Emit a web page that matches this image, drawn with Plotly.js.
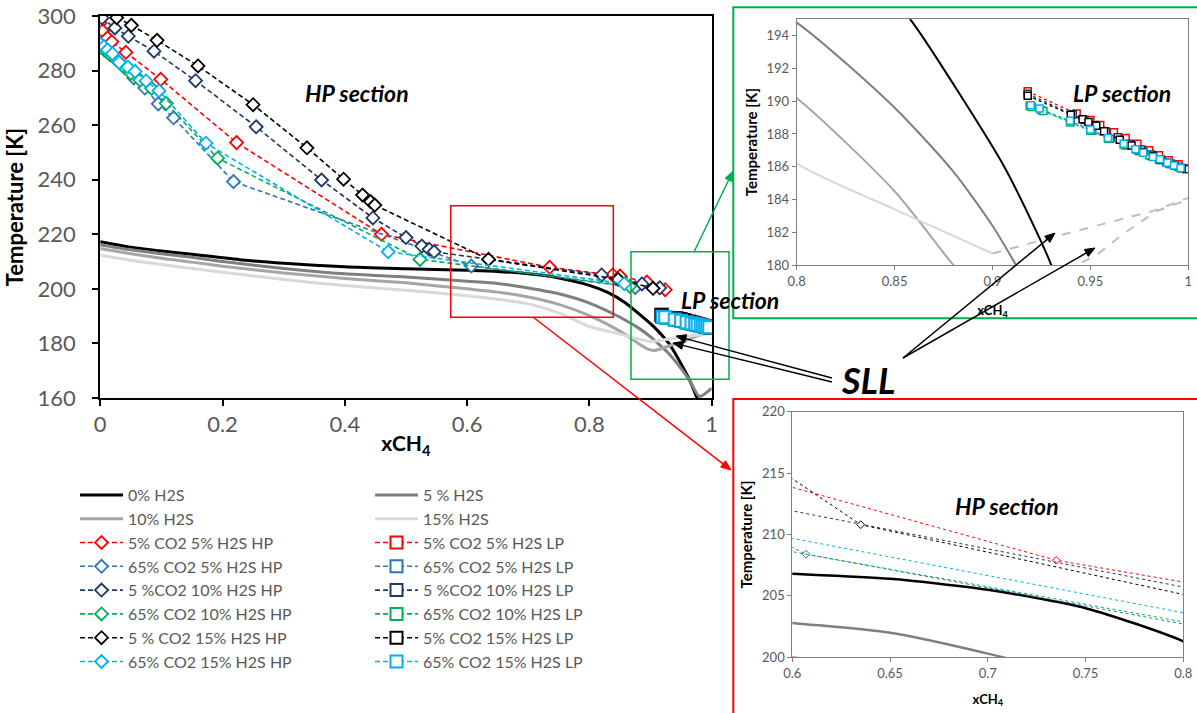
<!DOCTYPE html>
<html><head><meta charset="utf-8">
<script src="https://cdn.plot.ly/plotly-3.0.1.min.js"></script>
<style>html,body{margin:0;padding:0;background:#fff}#chart{width:1197px;height:713px}</style>
</head><body><div id="chart"></div>
<script>
// ---------- DATA ----------
// Phase-envelope curves (xCH4, T [K])
const c0_x  = [0, 0.05, 0.1, 0.15, 0.232, 0.3, 0.4, 0.5, 0.6, 0.65, 0.7, 0.75, 0.8, 0.83, 0.858, 0.885, 0.906, 0.923, 0.93, 0.95, 0.965, 0.975, 0.985];
const c0_T  = [217.3, 215.3, 213.9, 212.7, 210.6, 209.4, 208.1, 207.4, 206.8, 206.4, 205.5, 204.0, 201.3, 198.7, 195.0, 190.1, 186.0, 181.9, 180.0, 172.5, 166.0, 160.5, 155.0];
const c5_x  = [0, 0.05, 0.1, 0.15, 0.2, 0.3, 0.4, 0.5, 0.6, 0.65, 0.7, 0.75, 0.8, 0.85, 0.88, 0.9, 0.912, 0.93, 0.95, 0.965, 0.98, 1.0];
const c5_T  = [216.2, 214.3, 212.9, 211.6, 210.0, 207.5, 205.5, 204.3, 202.8, 202.0, 200.3, 198.2, 194.8, 189.6, 185.7, 182.4, 180.0, 176.2, 170.8, 166.0, 160.6, 163.6];
const c10_x = [0, 0.05, 0.1, 0.15, 0.2, 0.3, 0.4, 0.5, 0.6, 0.65, 0.7, 0.75, 0.8, 0.85, 0.88, 0.895, 0.906, 0.925, 0.943, 0.953, 0.968, 0.984, 1.0];
const c10_T = [214.8, 212.9, 211.2, 209.8, 208.3, 205.8, 203.8, 202.2, 200.0, 198.8, 197.0, 194.3, 190.2, 184.5, 180.0, 178.0, 177.4, 178.7, 180.0, 180.6, 182.0, 183.3, 184.0];
const c15_x = [0, 0.05, 0.1, 0.15, 0.2, 0.3, 0.4, 0.5, 0.6, 0.65, 0.7, 0.75, 0.8, 0.85, 0.9, 0.934, 0.982, 1.0];
const c15_T = [212.3, 210.5, 208.9, 207.5, 206.1, 203.4, 201.2, 199.5, 197.5, 196.2, 194.5, 191.2, 186.2, 183.4, 180.7, 181.8, 183.3, 184.1];

// HP section points
const hp_r_x  = [0.0, 0.004, 0.012, 0.019, 0.042, 0.099, 0.223, 0.460, 0.735, 0.838, 0.850, 0.894, 0.924];
const hp_r_T  = [297.5, 294.5, 292.0, 290.6, 286.7, 276.8, 253.6, 220.0, 207.9, 205.1, 204.7, 202.5, 199.7];
const hp_b_x  = [0.0, 0.005, 0.011, 0.018, 0.028, 0.040, 0.055, 0.073, 0.095, 0.120, 0.218, 0.607, 0.875];
const hp_b_T  = [289.0, 288.0, 287.0, 285.6, 283.8, 281.0, 277.3, 273.6, 267.8, 262.7, 239.3, 208.4, 200.5];
const hp_n_x  = [0.003, 0.024, 0.046, 0.088, 0.156, 0.255, 0.362, 0.446, 0.500, 0.526, 0.538, 0.546, 0.820, 0.886, 0.915];
const hp_n_T  = [299.3, 295.6, 292.6, 287.1, 276.3, 259.4, 239.9, 226.0, 218.8, 215.7, 214.5, 213.6, 205.1, 201.8, 200.4];
const hp_g_x  = [0.0, 0.007, 0.015, 0.025, 0.037, 0.050, 0.065, 0.084, 0.108, 0.192, 0.523, 0.866];
const hp_g_T  = [288.6, 287.5, 286.0, 284.2, 281.8, 279.0, 276.5, 273.5, 268.0, 247.9, 210.8, 201.0];
const hp_k_x  = [0.027, 0.051, 0.093, 0.160, 0.250, 0.338, 0.398, 0.429, 0.442, 0.449, 0.635, 0.847, 0.904];
const hp_k_T  = [299.4, 296.6, 291.1, 281.7, 267.5, 251.7, 240.2, 234.4, 232.0, 230.7, 210.8, 203.5, 200.2];
const hp_c_x  = [0.0, 0.006, 0.012, 0.020, 0.031, 0.045, 0.057, 0.075, 0.096, 0.173, 0.471, 0.857];
const hp_c_T  = [289.8, 288.8, 287.6, 286.2, 283.0, 281.3, 279.7, 276.2, 272.6, 253.4, 213.6, 201.9];

// LP section points
const lp_r_x  = [0.918, 0.943, 0.950, 0.955, 0.962, 0.968, 0.974, 0.980, 0.985, 0.990, 0.995, 1.0];
const lp_r_T  = [190.6, 189.25, 188.85, 188.55, 188.1, 187.75, 187.4, 187.0, 186.7, 186.4, 186.15, 185.9];
const lp_b_x  = [0.919, 0.925, 0.940, 0.951, 0.960, 0.968, 0.975, 0.981, 0.986, 0.991, 0.996];
const lp_b_T  = [189.7, 189.45, 188.75, 188.2, 187.7, 187.3, 186.95, 186.65, 186.4, 186.15, 185.95];
const lp_n_x  = [0.918, 0.941, 0.947, 0.952, 0.958, 0.964, 0.970, 0.976, 0.981, 0.986, 0.991, 0.995, 0.999];
const lp_n_T  = [190.45, 189.2, 188.85, 188.55, 188.15, 187.8, 187.4, 187.05, 186.75, 186.45, 186.2, 186.0, 185.85];
const lp_g_x  = [0.920, 0.926, 0.9396, 0.950, 0.959, 0.967, 0.974, 0.980, 0.985, 0.990, 0.995];
const lp_g_T  = [189.65, 189.4, 188.7, 188.2, 187.7, 187.35, 187.0, 186.7, 186.45, 186.2, 185.97];
const lp_k_x  = [0.918, 0.940, 0.946, 0.949, 0.953, 0.957, 0.965, 0.971, 0.977, 0.982, 0.9855, 0.989, 0.993, 0.9966];
const lp_k_T  = [190.33, 189.18, 188.9, 188.73, 188.5, 188.16, 187.65, 187.3, 186.9, 186.65, 186.43, 186.24, 186.08, 185.9];
const lp_c_x  = [0.9195, 0.924, 0.9396, 0.950, 0.959, 0.967, 0.973, 0.977, 0.982, 0.9855, 0.9893, 0.9927, 0.9961];
const lp_c_T  = [189.76, 189.55, 188.8, 188.27, 187.76, 187.4, 187.06, 186.86, 186.6, 186.45, 186.24, 186.08, 185.92];

const curveNames = ['0% H2S', '5 % H2S', '10% H2S', '15% H2S'];
const hpNames = ['5% CO2 5% H2S HP', '65% CO2 5% H2S HP', '5 %CO2 10% H2S HP', '65% CO2 10% H2S HP', '5 % CO2 15% H2S HP', '65% CO2 15% H2S HP'];
const lpNames = ['5% CO2 5% H2S LP', '65% CO2 5% H2S LP', '5 %CO2 10% H2S LP', '65% CO2 10% H2S LP', '5% CO2 15% H2S LP', '65% CO2 15% H2S LP'];

// ---------- STYLE ----------
const FONT = 'Lato, "Open Sans", sans-serif';
const W = 1197, H = 713;
const px = v => v / W, py = v => 1 - v / H;
const curveColors = ['#000000', '#7F7F7F', '#A6A6A6', '#D9D9D9'];
const seriesColors = ['#FF0000', '#2E75B6', '#1F3864', '#00B050', '#000000', '#00B0F0'];
const DASH = '5px,3px';

const curves = [[c0_x, c0_T], [c5_x, c5_T], [c10_x, c10_T], [c15_x, c15_T]];
const hp = [[hp_r_x, hp_r_T], [hp_b_x, hp_b_T], [hp_n_x, hp_n_T], [hp_g_x, hp_g_T], [hp_k_x, hp_k_T], [hp_c_x, hp_c_T]];
const lp = [[lp_r_x, lp_r_T], [lp_b_x, lp_b_T], [lp_n_x, lp_n_T], [lp_g_x, lp_g_T], [lp_k_x, lp_k_T], [lp_c_x, lp_c_T]];

const traces = [];
// main plot
curves.forEach((c, i) => traces.push({
  x: c[0], y: c[1], name: curveNames[i], mode: 'lines', type: 'scatter',
  line: {color: curveColors[i], width: 3, shape: 'spline', smoothing: 0.7}, legend: i % 2 === 0 ? 'legend' : 'legend2',
  xaxis: 'x', yaxis: 'y', hoverinfo: 'skip'
}));
hp.forEach((s, i) => traces.push({
  x: s[0], y: s[1], name: hpNames[i], mode: 'lines+markers', type: 'scatter',
  line: {color: seriesColors[i], width: 1.6, dash: DASH},
  marker: {symbol: 'diamond', size: 10, color: '#FFFFFF', line: {width: 1.8, color: seriesColors[i]}},
  legend: 'legend', xaxis: 'x', yaxis: 'y'
}));
lp.forEach((s, i) => traces.push({
  x: s[0], y: s[1], name: lpNames[i], mode: 'lines+markers', type: 'scatter',
  line: {color: seriesColors[i], width: 1.6, dash: DASH},
  marker: {symbol: 'square', size: 12, color: '#FFFFFF', line: {width: 2, color: seriesColors[i]}},
  legend: 'legend2', xaxis: 'x', yaxis: 'y'
}));
// top inset (LP zoom)
curves.forEach((c, i) => {
  const T = c[1];
  let im = 0; T.forEach((v, k) => { if (v < T[im]) im = k; });
  const hasSLL = im < T.length - 1;
  traces.push({x: c[0].slice(0, im + 1), y: T.slice(0, im + 1), mode: 'lines', showlegend: false,
    line: {color: curveColors[i], width: 2, shape: 'spline', smoothing: 0.7}, xaxis: 'x2', yaxis: 'y2', hoverinfo: 'skip'});
  if (hasSLL) traces.push({x: c[0].slice(im), y: T.slice(im), mode: 'lines', showlegend: false,
    line: {color: '#BFBFBF', width: 2, dash: 'dash'}, xaxis: 'x2', yaxis: 'y2', hoverinfo: 'skip'});
});
lp.forEach((s, i) => traces.push({
  x: s[0], y: s[1], mode: 'lines+markers', showlegend: false,
  line: {color: seriesColors[i], width: 1.2, dash: 'dot'},
  marker: {symbol: 'square', size: 7, color: '#FFFFFF', line: {width: 1.5, color: seriesColors[i]}},
  xaxis: 'x2', yaxis: 'y2'
}));
// bottom inset (HP zoom)
curves.forEach((c, i) => traces.push({
  x: c[0], y: c[1], mode: 'lines', showlegend: false,
  line: {color: curveColors[i], width: 2.5, shape: 'spline', smoothing: 0.7}, xaxis: 'x3', yaxis: 'y3', hoverinfo: 'skip'
}));
hp.forEach((s, i) => traces.push({
  x: s[0], y: s[1], mode: 'lines+markers', showlegend: false,
  line: {color: seriesColors[i], width: 1, dash: 'dot'},
  marker: {symbol: 'diamond', size: 6, color: '#FFFFFF', line: {width: 1, color: seriesColors[i]}},
  xaxis: 'x3', yaxis: 'y3'
}));

const mainAxis = {
  showline: true, linecolor: '#000', linewidth: 2, mirror: true, showgrid: false, zeroline: false,
  ticks: 'outside', ticklen: 6, tickwidth: 2, tickcolor: '#000',
  tickfont: {family: FONT, size: 22, color: '#595959'}
};
const insetAxis = {
  showline: true, linecolor: '#7F7F7F', linewidth: 1, mirror: true, showgrid: false, zeroline: false,
  ticks: 'outside', ticklen: 4, tickwidth: 1, tickcolor: '#7F7F7F',
  tickfont: {family: FONT, size: 13, color: '#595959'}
};
const titleFont = s => ({family: FONT, size: s, color: '#000', weight: 'bold'});

const label = (t, x, y, s) => ({text: '<b><i>' + t + '</i></b>', x: px(x), y: py(y), xref: 'paper', yref: 'paper',
  xanchor: 'center', yanchor: 'middle', showarrow: false,
  font: {family: FONT, size: s, color: '#000'}});

// arrows drawn as shapes: a line plus a filled triangular head (page pixel coords -> paper)
function arrowShapes(hx, hy, tx, ty, col, w) {
  const dx = hx - tx, dy = hy - ty, L = Math.hypot(dx, dy), ux = dx / L, uy = dy / L;
  const len = 10, half = 4;
  const bx = hx - ux * len, by = hy - uy * len;
  const p1 = [bx - uy * half, by + ux * half], p2 = [bx + uy * half, by - ux * half];
  return [
    {type: 'line', xref: 'paper', yref: 'paper', x0: px(tx), y0: py(ty), x1: px(bx), y1: py(by), line: {color: col, width: w}},
    {type: 'path', xref: 'paper', yref: 'paper', fillcolor: col, line: {color: col, width: 1},
      path: `M ${px(hx)} ${py(hy)} L ${px(p1[0])} ${py(p1[1])} L ${px(p2[0])} ${py(p2[1])} Z`}
  ];
}

const layout = {
  width: W, height: H, margin: {l: 0, r: 0, t: 0, b: 0},
  paper_bgcolor: '#fff', plot_bgcolor: 'rgba(0,0,0,0)',
  font: {family: FONT},
  xaxis: Object.assign({}, mainAxis, {domain: [px(100.2), px(711.7)], range: [0, 1], dtick: 0.2, anchor: 'y',
    title: {text: 'xCH<sub>4</sub>', font: titleFont(21), standoff: 0}}),
  yaxis: Object.assign({}, mainAxis, {domain: [py(398), py(16)], range: [160, 300], dtick: 20, anchor: 'x',
    ticklabelstandoff: 12, title: {text: 'Temperature [K]', font: titleFont(22), standoff: 8}}),
  xaxis2: Object.assign({}, insetAxis, {domain: [px(796.7), px(1188.3)], range: [0.8, 1], dtick: 0.05, anchor: 'y2',
    title: {text: 'xCH<sub>4</sub>', font: titleFont(13), standoff: 18}}),
  yaxis2: Object.assign({}, insetAxis, {domain: [py(265), py(19.3)], range: [180, 195], tick0: 180, dtick: 2, anchor: 'x2',
    title: {text: 'Temperature [K]', font: titleFont(15), standoff: 5}}),
  xaxis3: Object.assign({}, insetAxis, {domain: [px(792.3), px(1183.3)], range: [0.6, 0.8], dtick: 0.05, anchor: 'y3',
    title: {text: 'xCH<sub>4</sub>', font: titleFont(13), standoff: 14}}),
  yaxis3: Object.assign({}, insetAxis, {domain: [py(657.3), py(411.7)], range: [200, 220], dtick: 5, anchor: 'x3',
    title: {text: 'Temperature [K]', font: titleFont(15), standoff: 5}}),
  legend: {x: px(75), y: py(478), xanchor: 'left', yanchor: 'top', bgcolor: 'rgba(0,0,0,0)',
    font: {family: FONT, size: 16, color: '#595959'}, itemwidth: 43, tracegroupgap: 0},
  legend2: {x: px(370), y: py(478), xanchor: 'left', yanchor: 'top', bgcolor: 'rgba(0,0,0,0)',
    font: {family: FONT, size: 16, color: '#595959'}, itemwidth: 43, tracegroupgap: 0},
  shapes: [
    {type: 'rect', xref: 'paper', yref: 'paper', x0: px(450.7), x1: px(613.3), y0: py(317.3), y1: py(205.7), line: {color: '#FF0000', width: 1.5}},
    {type: 'rect', xref: 'paper', yref: 'paper', x0: px(631), x1: px(729), y0: py(379.3), y1: py(251.7), line: {color: '#00B050', width: 1.5}},
    {type: 'rect', xref: 'paper', yref: 'paper', x0: px(733.3), x1: 1.01, y0: py(318.3), y1: py(7.3), line: {color: '#00B050', width: 2}},
    {type: 'rect', xref: 'paper', yref: 'paper', x0: px(733.3), x1: 1.01, y0: -0.01, y1: py(399), line: {color: '#FF0000', width: 2}}
  ].concat(
    arrowShapes(733, 171, 694, 252, '#00B050', 1.5),
    arrowShapes(731, 470, 533, 317, '#FF0000', 1.5),
    arrowShapes(676, 336, 832, 378, '#000', 1.5),
    arrowShapes(673, 343, 832, 382, '#000', 1.5),
    arrowShapes(1055, 233, 903, 358, '#000', 1.5),
    arrowShapes(1095, 248, 903, 358, '#000', 1.5)
  ),
  annotations: [
    label('HP section', 357, 93, 23),
    label('LP section', 730, 300, 23),
    label('LP section', 1122, 93, 23),
    label('HP section', 1007, 506, 23),
    label('SLL', 868, 380, 36)
  ]
};

Plotly.newPlot('chart', traces, layout, {displayModeBar: false, staticPlot: true});
</script></body></html>
